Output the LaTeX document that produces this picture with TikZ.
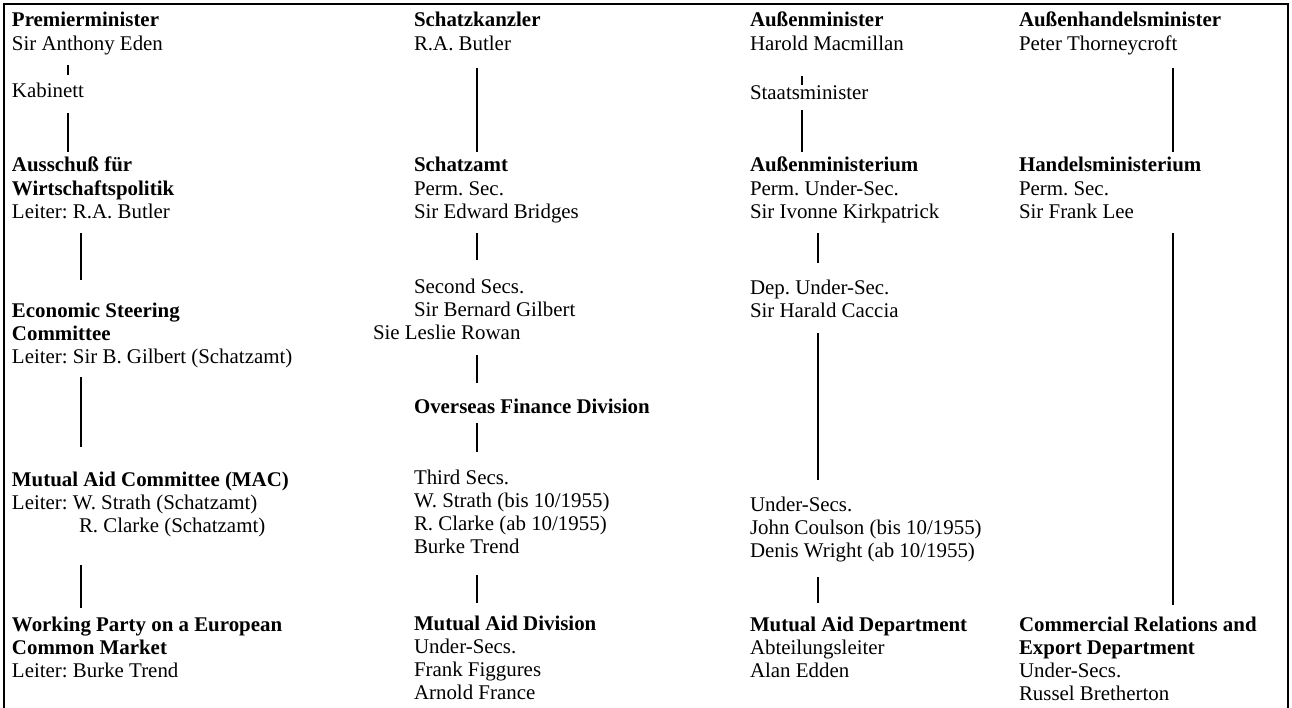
\documentclass[tikz,border=0pt]{standalone}
\usepackage{fontspec}
\setmainfont{Liberation Serif}
\frenchspacing
\newcommand\vcon[6]{\draw[conn,shorten <=#5pt,shorten >=#6pt] ([xshift=#3pt]#1.south west) -- ([xshift=#4pt]#2.north west);}
\begin{document}
\begin{tikzpicture}[x=1pt,y=-1pt,
  txt/.style={anchor=north west, yshift=16.31pt, inner sep=0pt, outer sep=0pt, align=left,
              font=\fontsize{20.9}{23.3}\selectfont},
  conn/.style={line width=1.6pt},
  frame/.style={line width=1.4pt}]
\useasboundingbox (0,0) rectangle (1292,708);
\draw[frame] (4,708) -- (4,4) -- (1288,4) -- (1288,708);

% column 1
\node[txt] (pm) at (12,27) {\textbf{Premierminister}\strut\\Sir Anthony Eden\strut};
\node[txt] (kab) at (12,98) {Kabinett\strut};
\node[txt] (aus) at (12,172) {\textbf{Ausschuß für}\strut\\\textbf{Wirtschaftspolitik}\strut\\Leiter: R.A. Butler\strut};
\node[txt] (esc) at (12,317) {\textbf{Economic Steering}\strut\\\textbf{Committee}\strut\\Leiter: Sir B. Gilbert (Schatzamt)\strut};
\node[txt] (mac) at (12,486) {\textbf{Mutual Aid Committee (MAC)}\strut\\Leiter: W. Strath (Schatzamt)\strut\\\hspace*{67pt}R. Clarke (Schatzamt)\strut};
\node[txt] (wp) at (12,631) {\textbf{Working Party on a European}\strut\\\textbf{Common Market}\strut\\Leiter: Burke Trend\strut};

% column 2
\node[txt] (sk) at (414,27) {\textbf{Schatzkanzler}\strut\\R.A. Butler\strut};
\node[txt] (sa) at (414,172) {\textbf{Schatzamt}\strut\\Perm. Sec.\strut\\Sir Edward Bridges\strut};
\node[txt] (ss) at (373,293) {\hspace*{41pt}Second Secs.\strut\\\hspace*{41pt}Sir Bernard Gilbert\strut\\Sie Leslie Rowan\strut};
\node[txt] (ofd) at (414,413) {\textbf{Overseas Finance Division}\strut};
\node[txt] (ts) at (414,484) {Third Secs.\strut\\W. Strath (bis 10/1955)\strut\\R. Clarke (ab 10/1955)\strut\\Burke Trend\strut};
\node[txt] (mad) at (414,630) {\textbf{Mutual Aid Division}\strut\\Under-Secs.\strut\\Frank Figgures\strut\\Arnold France\strut};

% column 3
\node[txt] (am) at (750,27) {\textbf{Außenminister}\strut\\Harold Macmillan\strut};
\node[txt] (stm) at (750,100) {Staatsminister\strut};
\node[txt] (ami) at (750,172) {\textbf{Außenministerium}\strut\\Perm. Under-Sec.\strut\\Sir Ivonne Kirkpatrick\strut};
\node[txt] (dus) at (750,294) {Dep. Under-Sec.\strut\\Sir Harald Caccia\strut};
\node[txt] (us) at (750,511) {Under-Secs.\strut\\John Coulson (bis 10/1955)\strut\\Denis Wright (ab 10/1955)\strut};
\node[txt] (madp) at (750,631) {\textbf{Mutual Aid Department}\strut\\Abteilungsleiter\strut\\Alan Edden\strut};

% column 4
\node[txt] (ahm) at (1019,27) {\textbf{Außenhandelsminister}\strut\\Peter Thorneycroft\strut};
\node[txt] (hm) at (1019,172) {\textbf{Handelsministerium}\strut\\Perm. Sec.\strut\\Sir Frank Lee\strut};
\node[txt] (cre) at (1019,631) {\textbf{Commercial Relations and}\strut\\\textbf{Export Department}\strut\\Under-Secs.\strut\\Russel Bretherton\strut};

% connectors column 1
\vcon{pm}{kab}{56}{56}{7.7}{6.7}
\vcon{kab}{aus}{56}{56}{8}{3.7}
\vcon{aus}{esc}{69}{69}{7.4}{20.7}
\vcon{esc}{mac}{69}{69}{6.4}{22.7}
\vcon{mac}{wp}{69}{69}{25.4}{6.7}
% connectors column 2
\vcon{sk}{sa}{63}{63}{10.7}{3.7}
\vcon{sa}{ss}{63}{104}{7.4}{16.7}
\vcon{ss}{ofd}{104}{63}{8.4}{13.7}
\vcon{ofd}{ts}{63}{63}{3}{15.7}
\vcon{ts}{mad}{63}{63}{14.1}{10.7}
% connectors column 3
\vcon{am}{stm}{52}{52}{18.7}{-1.3}
\vcon{stm}{ami}{52}{52}{3}{3.7}
\vcon{ami}{dus}{68}{68}{7.4}{14.7}
\vcon{dus}{us}{68}{68}{8.7}{14.7}
\vcon{us}{madp}{68}{68}{12.4}{11.7}
% connectors column 4
\vcon{ahm}{hm}{154}{154}{10.7}{3.7}
\vcon{hm}{cre}{154}{154}{7.4}{9.7}
\end{tikzpicture}
\end{document}
